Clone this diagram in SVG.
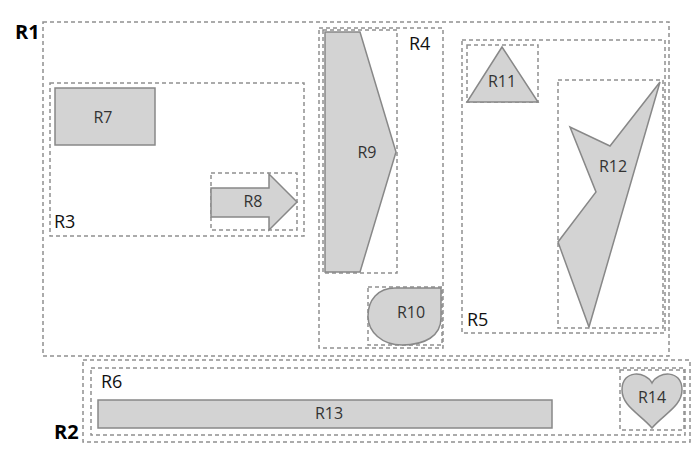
<svg xmlns="http://www.w3.org/2000/svg" width="698" height="462" viewBox="0 0 698 462">
<style>
.box{fill:none;stroke:#909090;stroke-width:1.5;stroke-dasharray:4 3}
.shape{fill:#d3d3d3;stroke:#888;stroke-width:1.5}
.lbl{font-family:"Open Sans","Liberation Sans",sans-serif;font-size:16px;fill:#333;text-anchor:middle;dominant-baseline:central}
.clbl{font-family:"Open Sans","Liberation Sans",sans-serif;font-size:18px;fill:#111}
.big{font-family:"Open Sans","Liberation Sans",sans-serif;font-size:20px;font-weight:bold;fill:#000}
</style>
<rect width="698" height="462" fill="#fff"/>
<g id="R1">
<rect class="box" x="43" y="22" width="626" height="334"/>
<text class="big" x="15" y="39">R1</text>
</g>
<g id="R3">
<rect class="box" x="50" y="83" width="254" height="153"/>
<text class="clbl" x="54" y="228">R3</text>
</g>
<g id="R7">
<rect class="shape" x="55" y="88" width="100" height="57"/>
<text class="lbl" x="103" y="117">R7</text>
</g>
<g id="R8">
<rect class="box" x="211" y="173" width="86" height="57"/>
<polygon class="shape" points="211,188 269,188 269,174 297,202 269,230 269,217 211,217"/>
<text class="lbl" x="253" y="201">R8</text>
</g>
<g id="R4">
<rect class="box" x="319" y="28" width="124" height="320"/>
<text class="clbl" x="409" y="50">R4</text>
</g>
<g id="R9">
<rect class="box" x="323" y="30" width="74" height="243"/>
<polygon class="shape" points="325,32 360,32 396,152 360,272 325,272"/>
<text class="lbl" x="367" y="152">R9</text>
</g>
<g id="R10">
<rect class="box" x="368" y="287" width="74" height="58"/>
<path class="shape" d="M441,288 L441,318 C441,336 425,345 402,345 C382,345 368,332 368,316 C368,300 378,288 395,288 Z"/>
<text class="lbl" x="411" y="312">R10</text>
</g>
<g id="R5">
<rect class="box" x="462" y="40" width="203" height="293"/>
<text class="clbl" x="467" y="326">R5</text>
</g>
<g id="R11">
<rect class="box" x="467" y="45" width="71" height="57"/>
<polygon class="shape" points="502,47 538,102 467,102"/>
<text class="lbl" x="502" y="81">R11</text>
</g>
<g id="R12">
<rect class="box" x="558" y="80" width="105" height="248"/>
<polygon class="shape" points="660,82 610,146 570,127 596,192 558,242 589,327"/>
<text class="lbl" x="613" y="166">R12</text>
</g>
<g id="R2">
<rect class="box" x="83" y="360" width="607" height="82"/>
<text class="big" x="54" y="439">R2</text>
</g>
<g id="R6">
<rect class="box" x="91" y="368" width="594" height="67"/>
<text class="clbl" x="101" y="388">R6</text>
</g>
<g id="R13">
<rect class="shape" x="98" y="400" width="454" height="28"/>
<text class="lbl" x="329" y="413">R13</text>
</g>
<g id="R14">
<rect class="box" x="620" y="370" width="64" height="60"/>
<path class="shape" d="M652,383 C646,371 622,369 622,390 C622,406 640,414 652,428 C664,414 682,406 682,390 C682,369 658,371 652,383 Z"/>
<text class="lbl" x="652" y="397">R14</text>
</g>
<g id="connectors"></g>
</svg>
